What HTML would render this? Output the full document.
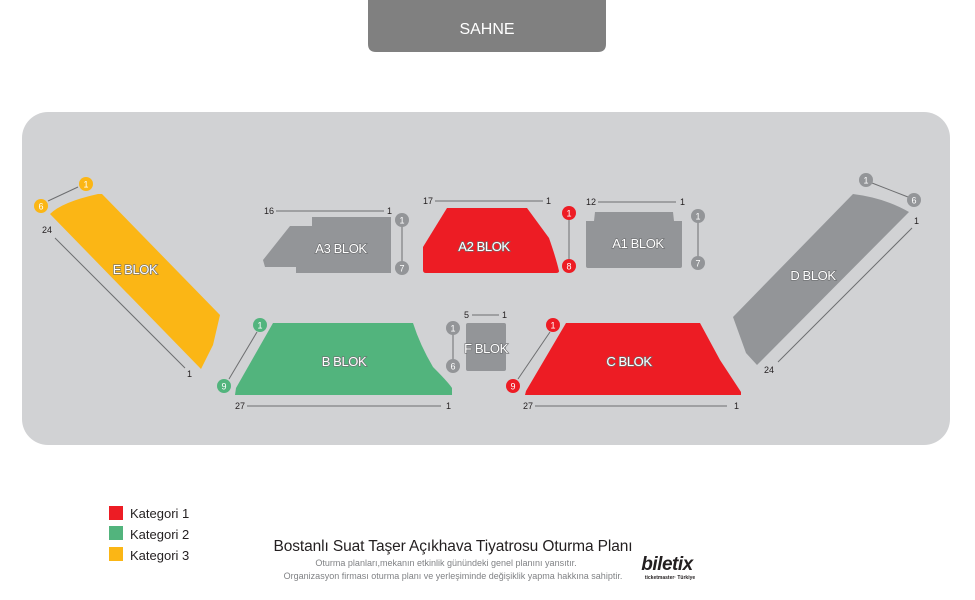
<!DOCTYPE html>
<html><head><meta charset="utf-8"><style>
html,body{margin:0;padding:0;background:#fff;}
svg{display:block;font-family:"Liberation Sans",sans-serif;}
.lb{font-size:13px;fill:#fff;stroke:#6d6e70;stroke-width:1.3px;paint-order:stroke;letter-spacing:-0.4px;text-anchor:middle;}
.n{font-size:9px;fill:#231f20;}
.c{font-size:9px;fill:#fff;text-anchor:middle;}
.ln{stroke:#6d6e70;stroke-width:1;fill:none;}
</style></head><body>
<svg width="975" height="600" viewBox="0 0 975 600">
<path d="M368,0 H606 V44 Q606,52 598,52 H376 Q368,52 368,44 Z" fill="#808080"/>
<text x="487" y="34" font-size="16" fill="#fff" text-anchor="middle">SAHNE</text>
<rect x="22" y="112" width="928" height="333" rx="26" fill="#d1d2d4"/>

<!-- E -->
<path d="M50,214 Q62,202 98,194 L102,194 L220,315 L213,345 L201,369 Z" fill="#fbb615"/>
<text class="lb" x="135" y="274">E BLOK</text>
<line class="ln" x1="48" y1="201" x2="78" y2="187"/>
<circle cx="86" cy="184" r="7" fill="#fbb615"/><text class="c" x="86" y="187.5">1</text>
<circle cx="41" cy="206" r="7" fill="#fbb615"/><text class="c" x="41" y="209.5">6</text>
<text class="n" x="42" y="233">24</text>
<line class="ln" x1="55" y1="238" x2="185" y2="368"/>
<text class="n" x="187" y="377">1</text>

<!-- A3 -->
<path d="M312,217 L391,217 L391,273 L296,273 L296,267 L265,267 L263,260 L290,226 L312,226 Z" fill="#939598"/>
<text class="lb" x="341" y="253">A3 BLOK</text>
<text class="n" x="264" y="214">16</text><line class="ln" x1="276" y1="211" x2="384" y2="211"/><text class="n" x="387" y="214">1</text>
<line class="ln" x1="402" y1="220" x2="402" y2="268"/>
<circle cx="402" cy="220" r="7" fill="#939598"/><text class="c" x="402" y="223.5">1</text>
<circle cx="402" cy="268" r="7" fill="#939598"/><text class="c" x="402" y="271.5">7</text>

<!-- A2 -->
<path d="M447,208 L527,208 L549,238 Q556,258 559,271 Q559,273 556,273 L426,273 Q423,273 423,270 L423,247 Z" fill="#ed1c24"/>
<text class="lb" x="484" y="251">A2 BLOK</text>
<text class="n" x="423" y="204">17</text><line class="ln" x1="435" y1="201" x2="543" y2="201"/><text class="n" x="546" y="204">1</text>
<line class="ln" x1="569" y1="213" x2="569" y2="266"/>
<circle cx="569" cy="213" r="7" fill="#ed1c24"/><text class="c" x="569" y="216.5">1</text>
<circle cx="569" cy="266" r="7" fill="#ed1c24"/><text class="c" x="569" y="269.5">8</text>

<!-- A1 -->
<path d="M595,212 L673,212 L674,221 L682,221 L682,266 Q682,268 680,268 L588,268 Q586,268 586,266 L586,221 L594,221 Z" fill="#939598"/>
<text class="lb" x="638" y="248">A1 BLOK</text>
<text class="n" x="586" y="205">12</text><line class="ln" x1="598" y1="202" x2="676" y2="202"/><text class="n" x="680" y="205">1</text>
<line class="ln" x1="698" y1="216" x2="698" y2="263"/>
<circle cx="698" cy="216" r="7" fill="#939598"/><text class="c" x="698" y="219.5">1</text>
<circle cx="698" cy="263" r="7" fill="#939598"/><text class="c" x="698" y="266.5">7</text>

<!-- D -->
<path d="M853,194 Q885,198 909,212 L757,365 L746,353 L733,317 Z" fill="#939598"/>
<text class="lb" x="813" y="280">D BLOK</text>
<line class="ln" x1="872" y1="183" x2="908" y2="197"/>
<circle cx="866" cy="180" r="7" fill="#939598"/><text class="c" x="866" y="183.5">1</text>
<circle cx="914" cy="200" r="7" fill="#939598"/><text class="c" x="914" y="203.5">6</text>
<text class="n" x="914" y="224">1</text>
<line class="ln" x1="912" y1="228" x2="778" y2="362"/>
<text class="n" x="764" y="373">24</text>

<!-- B -->
<path d="M273,323 L413,323 Q420,345 433,367 Q448,382 452,388 L452,395 L235,395 L236,388 Z" fill="#52b47d"/>
<text class="lb" x="344" y="366">B BLOK</text>
<line class="ln" x1="257" y1="332" x2="229" y2="379"/>
<circle cx="260" cy="325" r="7" fill="#52b47d"/><text class="c" x="260" y="328.5">1</text>
<circle cx="224" cy="386" r="7" fill="#52b47d"/><text class="c" x="224" y="389.5">9</text>
<text class="n" x="235" y="409">27</text><line class="ln" x1="247" y1="406" x2="441" y2="406"/><text class="n" x="446" y="409">1</text>

<!-- F -->
<rect x="466" y="323" width="40" height="48" rx="2" fill="#939598"/>
<text class="lb" x="486" y="353">F BLOK</text>
<text class="n" x="464" y="318">5</text><line class="ln" x1="472" y1="315" x2="499" y2="315"/><text class="n" x="502" y="318">1</text>
<line class="ln" x1="453" y1="328" x2="453" y2="366"/>
<circle cx="453" cy="328" r="7" fill="#939598"/><text class="c" x="453" y="331.5">1</text>
<circle cx="453" cy="366" r="7" fill="#939598"/><text class="c" x="453" y="369.5">6</text>

<!-- C -->
<path d="M566,323 L700,323 L720,360 L741,392 L741,395 L525,395 L526,391 Z" fill="#ed1c24"/>
<text class="lb" x="629" y="366">C BLOK</text>
<line class="ln" x1="550" y1="332" x2="518" y2="379"/>
<circle cx="553" cy="325" r="7" fill="#ed1c24"/><text class="c" x="553" y="328.5">1</text>
<circle cx="513" cy="386" r="7" fill="#ed1c24"/><text class="c" x="513" y="389.5">9</text>
<text class="n" x="523" y="409">27</text><line class="ln" x1="535" y1="406" x2="727" y2="406"/><text class="n" x="734" y="409">1</text>

<!-- legend -->
<rect x="109" y="506" width="14" height="14" fill="#ed1c24"/>
<rect x="109" y="526" width="14" height="14" fill="#52b47d"/>
<rect x="109" y="547" width="14" height="14" fill="#fbb615"/>
<text x="130" y="518" font-size="13" fill="#231f20">Kategori 1</text>
<text x="130" y="539" font-size="13" fill="#231f20">Kategori 2</text>
<text x="130" y="560" font-size="13" fill="#231f20">Kategori 3</text>

<text x="453" y="551" font-size="15.5" fill="#231f20" text-anchor="middle" letter-spacing="-0.1">Bostanlı Suat Taşer Açıkhava Tiyatrosu Oturma Planı</text>
<text x="446" y="566" font-size="9" fill="#808285" text-anchor="middle">Oturma planları,mekanın etkinlik günündeki genel planını yansıtır.</text>
<text x="453" y="579" font-size="9" fill="#808285" text-anchor="middle">Organizasyon firması oturma planı ve yerleşiminde değişiklik yapma hakkına sahiptir.</text>
<text x="667" y="570" font-size="19" font-weight="bold" font-style="italic" fill="#231f20" text-anchor="middle" letter-spacing="-0.5">biletix</text>
<text x="670" y="579" font-size="5" font-weight="bold" fill="#231f20" text-anchor="middle">ticketmaster· Türkiye</text>
</svg>
</body></html>
